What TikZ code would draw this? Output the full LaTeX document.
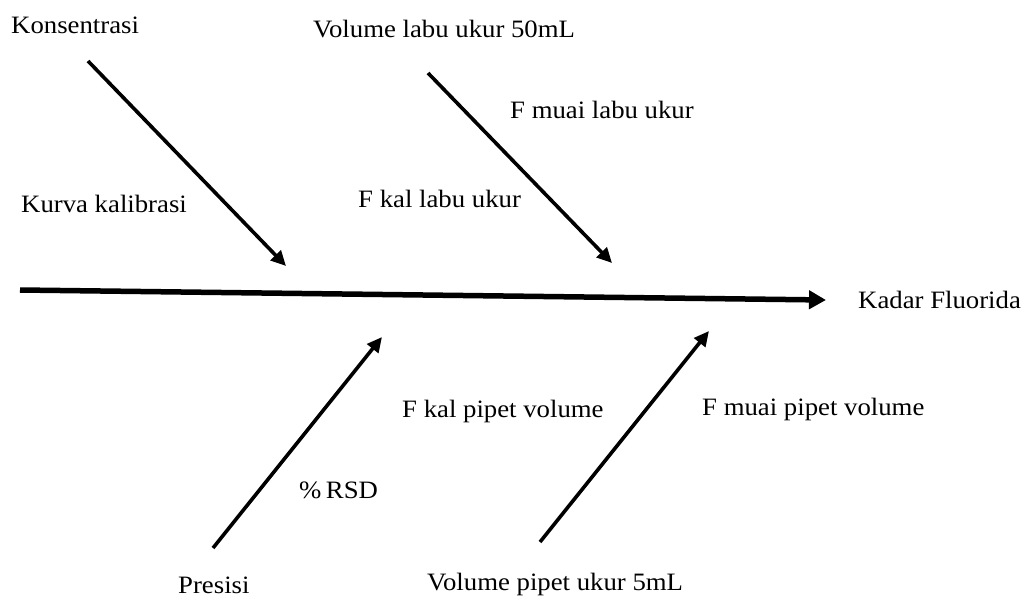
\documentclass[tikz,border=0pt]{standalone}
\usepackage{fontspec}
\setmainfont{Liberation Serif}
\usetikzlibrary{arrows.meta}
\tikzset{
  lbl/.style={anchor=base west,inner sep=0pt,font=\fontsize{25}{29}\selectfont,xscale=1.07,transform shape},
  bone/.style={line width=3.6pt,-{Triangle[length=15pt,width=14pt]}},
  spine/.style={line width=5.5pt,-{Triangle[length=17pt,width=18pt]}}
}
\begin{document}
\begin{tikzpicture}[x=1pt,y=-1pt]
\useasboundingbox (0,0) rectangle (1021,597);
% labels
\node[lbl] (kons) at (11,34) {Konsentrasi};
\node[lbl] (vlabu) at (313,37) {Volume labu ukur 50mL};
\node[lbl] (fmuailabu) at (510,118) {F muai labu ukur};
\node[lbl] (fkallabu) at (358,207) {F kal labu ukur};
\node[lbl] (kurva) at (21,212) {Kurva kalibrasi};
\node[lbl] (kadar) at (858,308) {Kadar Fluorida};
\node[lbl] (fmuaipipet) at (702,415) {F muai pipet volume};
\node[lbl] (fkalpipet) at (402,417) {F kal pipet volume};
\node[lbl] (rsd) at (299,498) {\%\,RSD};
\node[lbl] (presisi) at (178,593) {Presisi};
\node[lbl] (vpipet) at (427,590) {Volume pipet ukur 5mL};
% coordinates of bone ends
\coordinate (a1) at (88,61);   \coordinate (a2) at (286,266);
\coordinate (b1) at (428,73);  \coordinate (b2) at (612,263);
\coordinate (c1) at (213,548); \coordinate (c2) at (382,337);
\coordinate (d1) at (540,542); \coordinate (d2) at (709,331);
\coordinate (s1) at (20,290);  \coordinate (s2) at (826,300);
% connectors
\draw[spine] (s1) -- (s2);
\draw[bone] (a1) -- (a2);
\draw[bone] (b1) -- (b2);
\draw[bone] (c1) -- (c2);
\draw[bone] (d1) -- (d2);
\end{tikzpicture}
\end{document}
